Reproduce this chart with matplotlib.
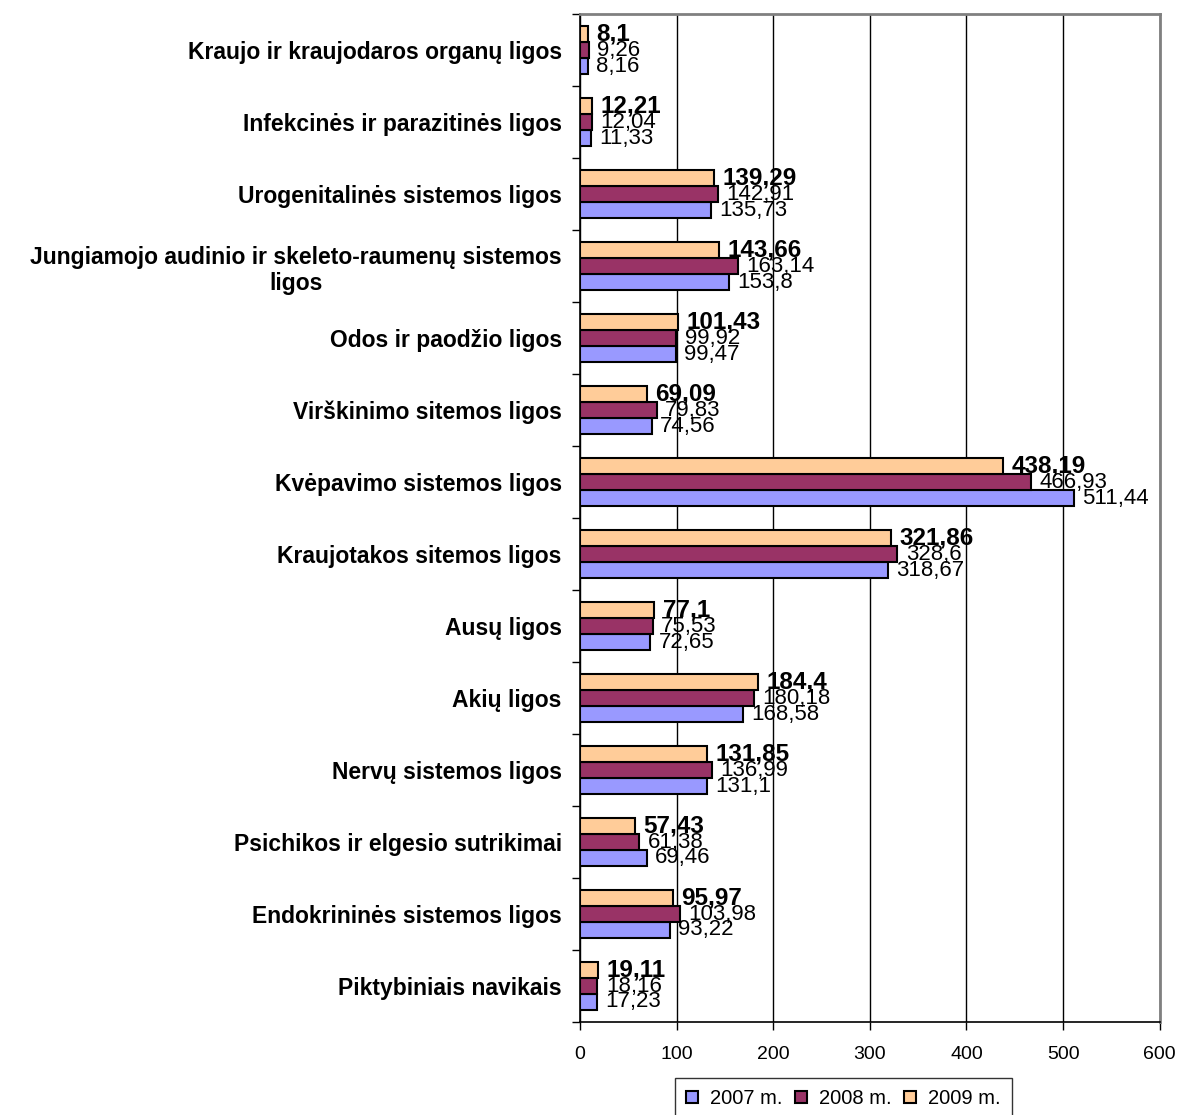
import matplotlib.pyplot as plt
import numpy as np

plt.rcParams['font.family'] = ['Liberation Sans', 'DejaVu Sans']

# kategorijos (iš viršaus į apačią)
kategorijos = ["Kraujo ir kraujodaros organų ligos",
               "Infekcinės ir parazitinės ligos",
               "Urogenitalinės sistemos ligos",
               "Jungiamojo audinio ir skeleto-raumenų sistemos\nligos",
               "Odos ir paodžio ligos",
               "Virškinimo sitemos ligos",
               "Kvėpavimo sistemos ligos",
               "Kraujotakos sitemos ligos",
               "Ausų ligos",
               "Akių ligos",
               "Nervų sistemos ligos",
               "Psichikos ir elgesio sutrikimai",
               "Endokrininės sistemos ligos",
               "Piktybiniais navikais"]
v2007 = [8.16, 11.33, 135.73, 153.8, 99.47, 74.56, 511.44, 318.67, 72.65, 168.58, 131.1, 69.46, 93.22, 17.23]
v2008 = [9.26, 12.04, 142.91, 163.14, 99.92, 79.83, 466.93, 328.6, 75.53, 180.18, 136.99, 61.38, 103.98, 18.16]
v2009 = [8.1, 12.21, 139.29, 143.66, 101.43, 69.09, 438.19, 321.86, 77.1, 184.4, 131.85, 57.43, 95.97, 19.11]
metai = ["2007 m.", "2008 m.", "2009 m."]
spalvos = ["#9999FF", "#993366", "#FFCC99"]

n = len(kategorijos)
y = np.arange(n)[::-1]  # pirma kategorija viršuje
h = 0.222

fig = plt.figure(figsize=(11.81, 11.15), dpi=100)
ax = fig.add_axes([0.491, 0.0834, 0.491, 0.904])

serijos = [v2007, v2008, v2009]
poslinkiai = [-h, 0, h]
for k in range(3):
    ax.barh(y + poslinkiai[k], serijos[k], height=h, color=spalvos[k],
            edgecolor='black', linewidth=1.5, label=metai[k], zorder=3)
    for yy, v in zip(y + poslinkiai[k], serijos[k]):
        txt = str(v).replace('.', ',')
        ax.annotate(txt, (v, yy), xytext=(6, 0), textcoords='offset points',
                    va='center', ha='left',
                    fontsize=17.5 if k == 2 else 16,
                    fontweight='bold' if k == 2 else 'normal', zorder=4)

ax.set_xlim(0, 600)
ax.set_ylim(-0.5, n - 0.5)
ax.set_xticks(np.arange(0, 601, 100))
ax.tick_params(axis='x', labelsize=14, length=6, width=1, direction='out', pad=11)
ax.grid(axis='x', color='black', linewidth=1, zorder=0)

# kategorijų ribos - žymės, pavadinimai centre
ax.set_yticks(np.arange(-0.5, n, 1))
ax.set_yticklabels([])
ax.tick_params(axis='y', which='major', length=6, width=1)
ax.set_yticks(y, minor=True)
ax.set_yticklabels(kategorijos, minor=True, fontsize=16.5, fontweight='bold',
                   multialignment='center')
ax.tick_params(axis='y', which='minor', length=0, pad=13)

ax.spines['left'].set_linewidth(1.2)
ax.spines['bottom'].set_linewidth(1.2)
ax.spines['top'].set_color('#808080')
ax.spines['right'].set_color('#808080')
ax.spines['top'].set_linewidth(2)
ax.spines['right'].set_linewidth(2)

leg = fig.legend(loc='upper center', bbox_to_anchor=(0.714, 0.0332), ncol=3, fontsize=14.5,
                 frameon=True, fancybox=False, edgecolor='black', handlelength=0.6,
                 handleheight=0.6, handletextpad=0.6, columnspacing=0.6,
                 borderpad=0.55, borderaxespad=0)
leg.get_frame().set_linewidth(1)

plt.savefig('out.png', dpi=100)
